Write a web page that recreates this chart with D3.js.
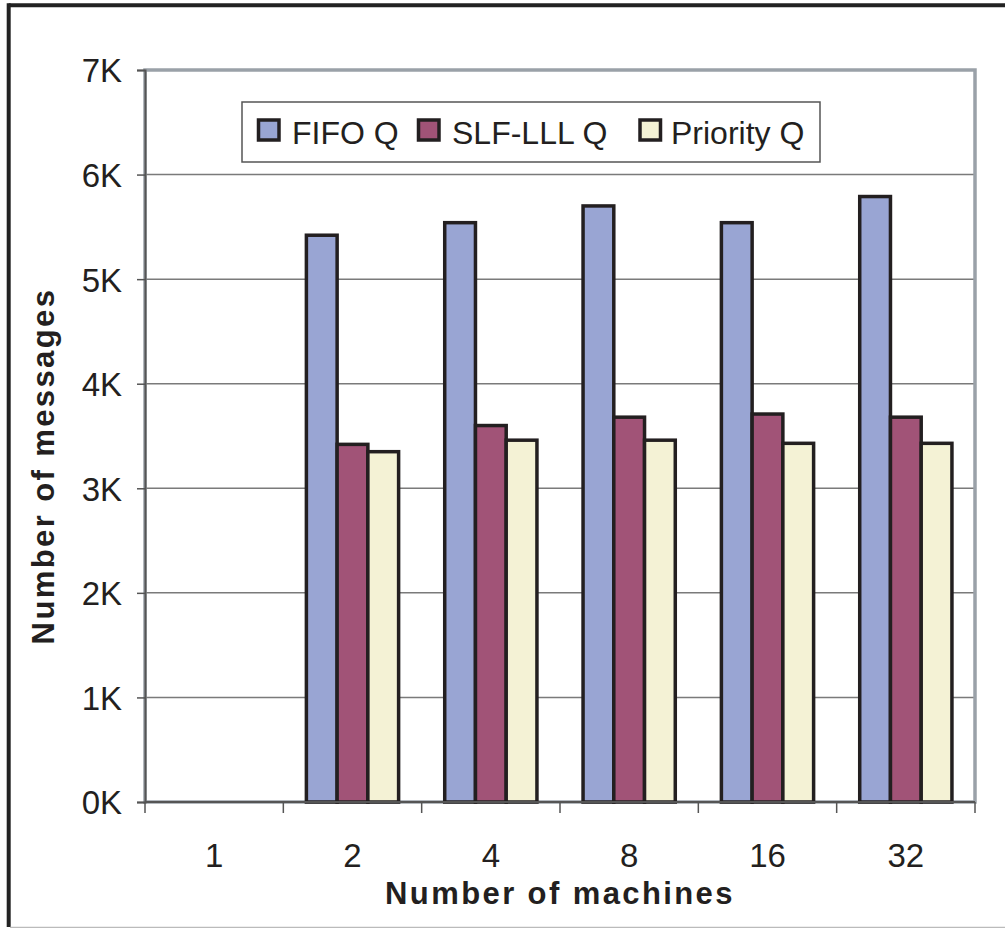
<!DOCTYPE html>
<html>
<head>
<meta charset="utf-8">
<script src="https://d3js.org/d3.v7.min.js"></script>
<style>
  html, body { margin: 0; padding: 0; background: #fff; }
  svg { display: block; font-family: "Liberation Sans", Arial, sans-serif; }
</style>
</head>
<body>
<svg id="chart" width="1005" height="928"></svg>
<script>
// Message counts (thousands) per queue type, by number of machines
const machines = ["1", "2", "4", "8", "16", "32"];
const seriesNames = ["FIFO Q", "SLF-LLL Q", "Priority Q"];
const fifoQ     = [0, 5.42, 5.54, 5.70, 5.54, 5.79];
const slfLllQ   = [0, 3.42, 3.60, 3.68, 3.71, 3.68];
const priorityQ = [0, 3.35, 3.46, 3.46, 3.43, 3.43];
const yTicks = [0, 1, 2, 3, 4, 5, 6, 7];
const colors = ["#99a5d3", "#a15377", "#f4f2d5"];

const seriesValues = [fifoQ, slfLllQ, priorityQ];
const rows = machines.map((m, i) => ({
  machine: m,
  values: seriesNames.map((s, j) => ({ series: s, value: seriesValues[j][i] }))
}));

const svg = d3.select("#chart");
const plot = { left: 145, right: 975, top: 70, bottom: 802 };

const x0 = d3.scaleBand().domain(machines).range([plot.left, plot.right]).padding(0);
const x1 = d3.scaleBand().domain(seriesNames).range([0, x0.bandwidth()])
  .paddingInner(0).paddingOuter(0.75);
const y = d3.scaleLinear().domain([0, 7]).range([plot.bottom, plot.top]);
const color = d3.scaleOrdinal().domain(seriesNames).range(colors);

// Outer frame
svg.append("line").attr("x1", 8.7).attr("x2", 1005).attr("y1", 5.3).attr("y2", 5.3)
  .attr("stroke", "#222").attr("stroke-width", 4);
svg.append("line").attr("x1", 8.7).attr("x2", 8.7).attr("y1", 3.3).attr("y2", 927)
  .attr("stroke", "#222").attr("stroke-width", 4);
svg.append("line").attr("x1", 10).attr("x2", 1005).attr("y1", 927.3).attr("y2", 927.3)
  .attr("stroke", "#bbb").attr("stroke-width", 1.2);

// Gridlines
svg.append("g").selectAll("line")
  .data(yTicks.filter(t => t > 0 && t < 7))
  .join("line")
  .attr("x1", plot.left).attr("x2", plot.right)
  .attr("y1", d => y(d)).attr("y2", d => y(d))
  .attr("stroke", "#7a7a7a").attr("stroke-width", 1.5);

// Plot area border
svg.append("rect")
  .attr("x", plot.left).attr("y", plot.top)
  .attr("width", plot.right - plot.left).attr("height", plot.bottom - plot.top)
  .attr("fill", "none").attr("stroke", "#9aa1a8").attr("stroke-width", 3.5);

// Bars
const groups = svg.append("g").selectAll("g")
  .data(rows).join("g")
  .attr("transform", d => `translate(${x0(d.machine)},0)`);
groups.selectAll("rect")
  .data(d => d.values.filter(v => v.value > 0))
  .join("rect")
  .attr("x", d => x1(d.series))
  .attr("y", d => y(d.value))
  .attr("width", x1.bandwidth())
  .attr("height", d => y(0) - y(d.value))
  .attr("fill", d => color(d.series))
  .attr("stroke", "#231f20").attr("stroke-width", 3.5);

// Y axis
const yAxis = d3.axisLeft(y).tickValues(yTicks).tickSize(8).tickPadding(15)
  .tickFormat(d => d + "K");
const gy = svg.append("g").attr("transform", `translate(${plot.left},0)`).call(yAxis);
gy.select(".domain").attr("stroke", "#555").attr("stroke-width", 2);
gy.selectAll(".tick line").attr("stroke", "#555").attr("stroke-width", 1.5);
gy.selectAll(".tick text")
  .attr("font-size", 33).attr("fill", "#231f20")
  .attr("font-family", "Liberation Sans, Arial, sans-serif")
  .attr("dy", "0.36em");

// X axis: ticks at category boundaries, labels at centers
const gx = svg.append("g").attr("transform", `translate(0,${plot.bottom})`);
gx.append("line").attr("x1", plot.left).attr("x2", plot.right)
  .attr("stroke", "#555").attr("stroke-width", 2);
const boundaries = machines.map(m => x0(m)).concat([plot.right]);
gx.selectAll(".bt").data(boundaries).join("line")
  .attr("class", "bt")
  .attr("x1", d => d).attr("x2", d => d).attr("y1", 0).attr("y2", 11)
  .attr("stroke", "#555").attr("stroke-width", 1.5);
gx.selectAll(".lbl").data(machines).join("text")
  .attr("class", "lbl")
  .attr("x", d => x0(d) + x0.bandwidth() / 2)
  .attr("y", 65)
  .attr("text-anchor", "middle")
  .attr("font-size", 33).attr("fill", "#231f20")
  .text(d => d);

// Axis titles
svg.append("text")
  .attr("x", 560).attr("y", 904)
  .attr("text-anchor", "middle")
  .attr("font-size", 31).attr("font-weight", "bold")
  .attr("letter-spacing", 2.4).attr("fill", "#231f20")
  .text("Number of machines");
svg.append("text")
  .attr("transform", "translate(54,466) rotate(-90)")
  .attr("text-anchor", "middle")
  .attr("font-size", 31).attr("font-weight", "bold")
  .attr("letter-spacing", 2.4).attr("fill", "#231f20")
  .text("Number of messages");

// Legend
const legend = svg.append("g");
legend.append("rect")
  .attr("x", 242).attr("y", 102).attr("width", 578).attr("height", 60)
  .attr("fill", "#fff").attr("stroke", "#555").attr("stroke-width", 1.5);
const swatchX = [258.5, 418.5, 640];
const textX = [292, 452, 671];
const items = legend.selectAll("g.item").data(seriesNames).join("g")
  .attr("class", "item");
items.append("rect")
  .attr("x", (d, i) => swatchX[i]).attr("y", 120)
  .attr("width", 20.5).attr("height", 20)
  .attr("fill", d => color(d)).attr("stroke", "#231f20").attr("stroke-width", 3.5);
items.append("text")
  .attr("x", (d, i) => textX[i]).attr("y", 143.5)
  .attr("font-size", 32).attr("fill", "#231f20")
  .text(d => d);
</script>
</body>
</html>
